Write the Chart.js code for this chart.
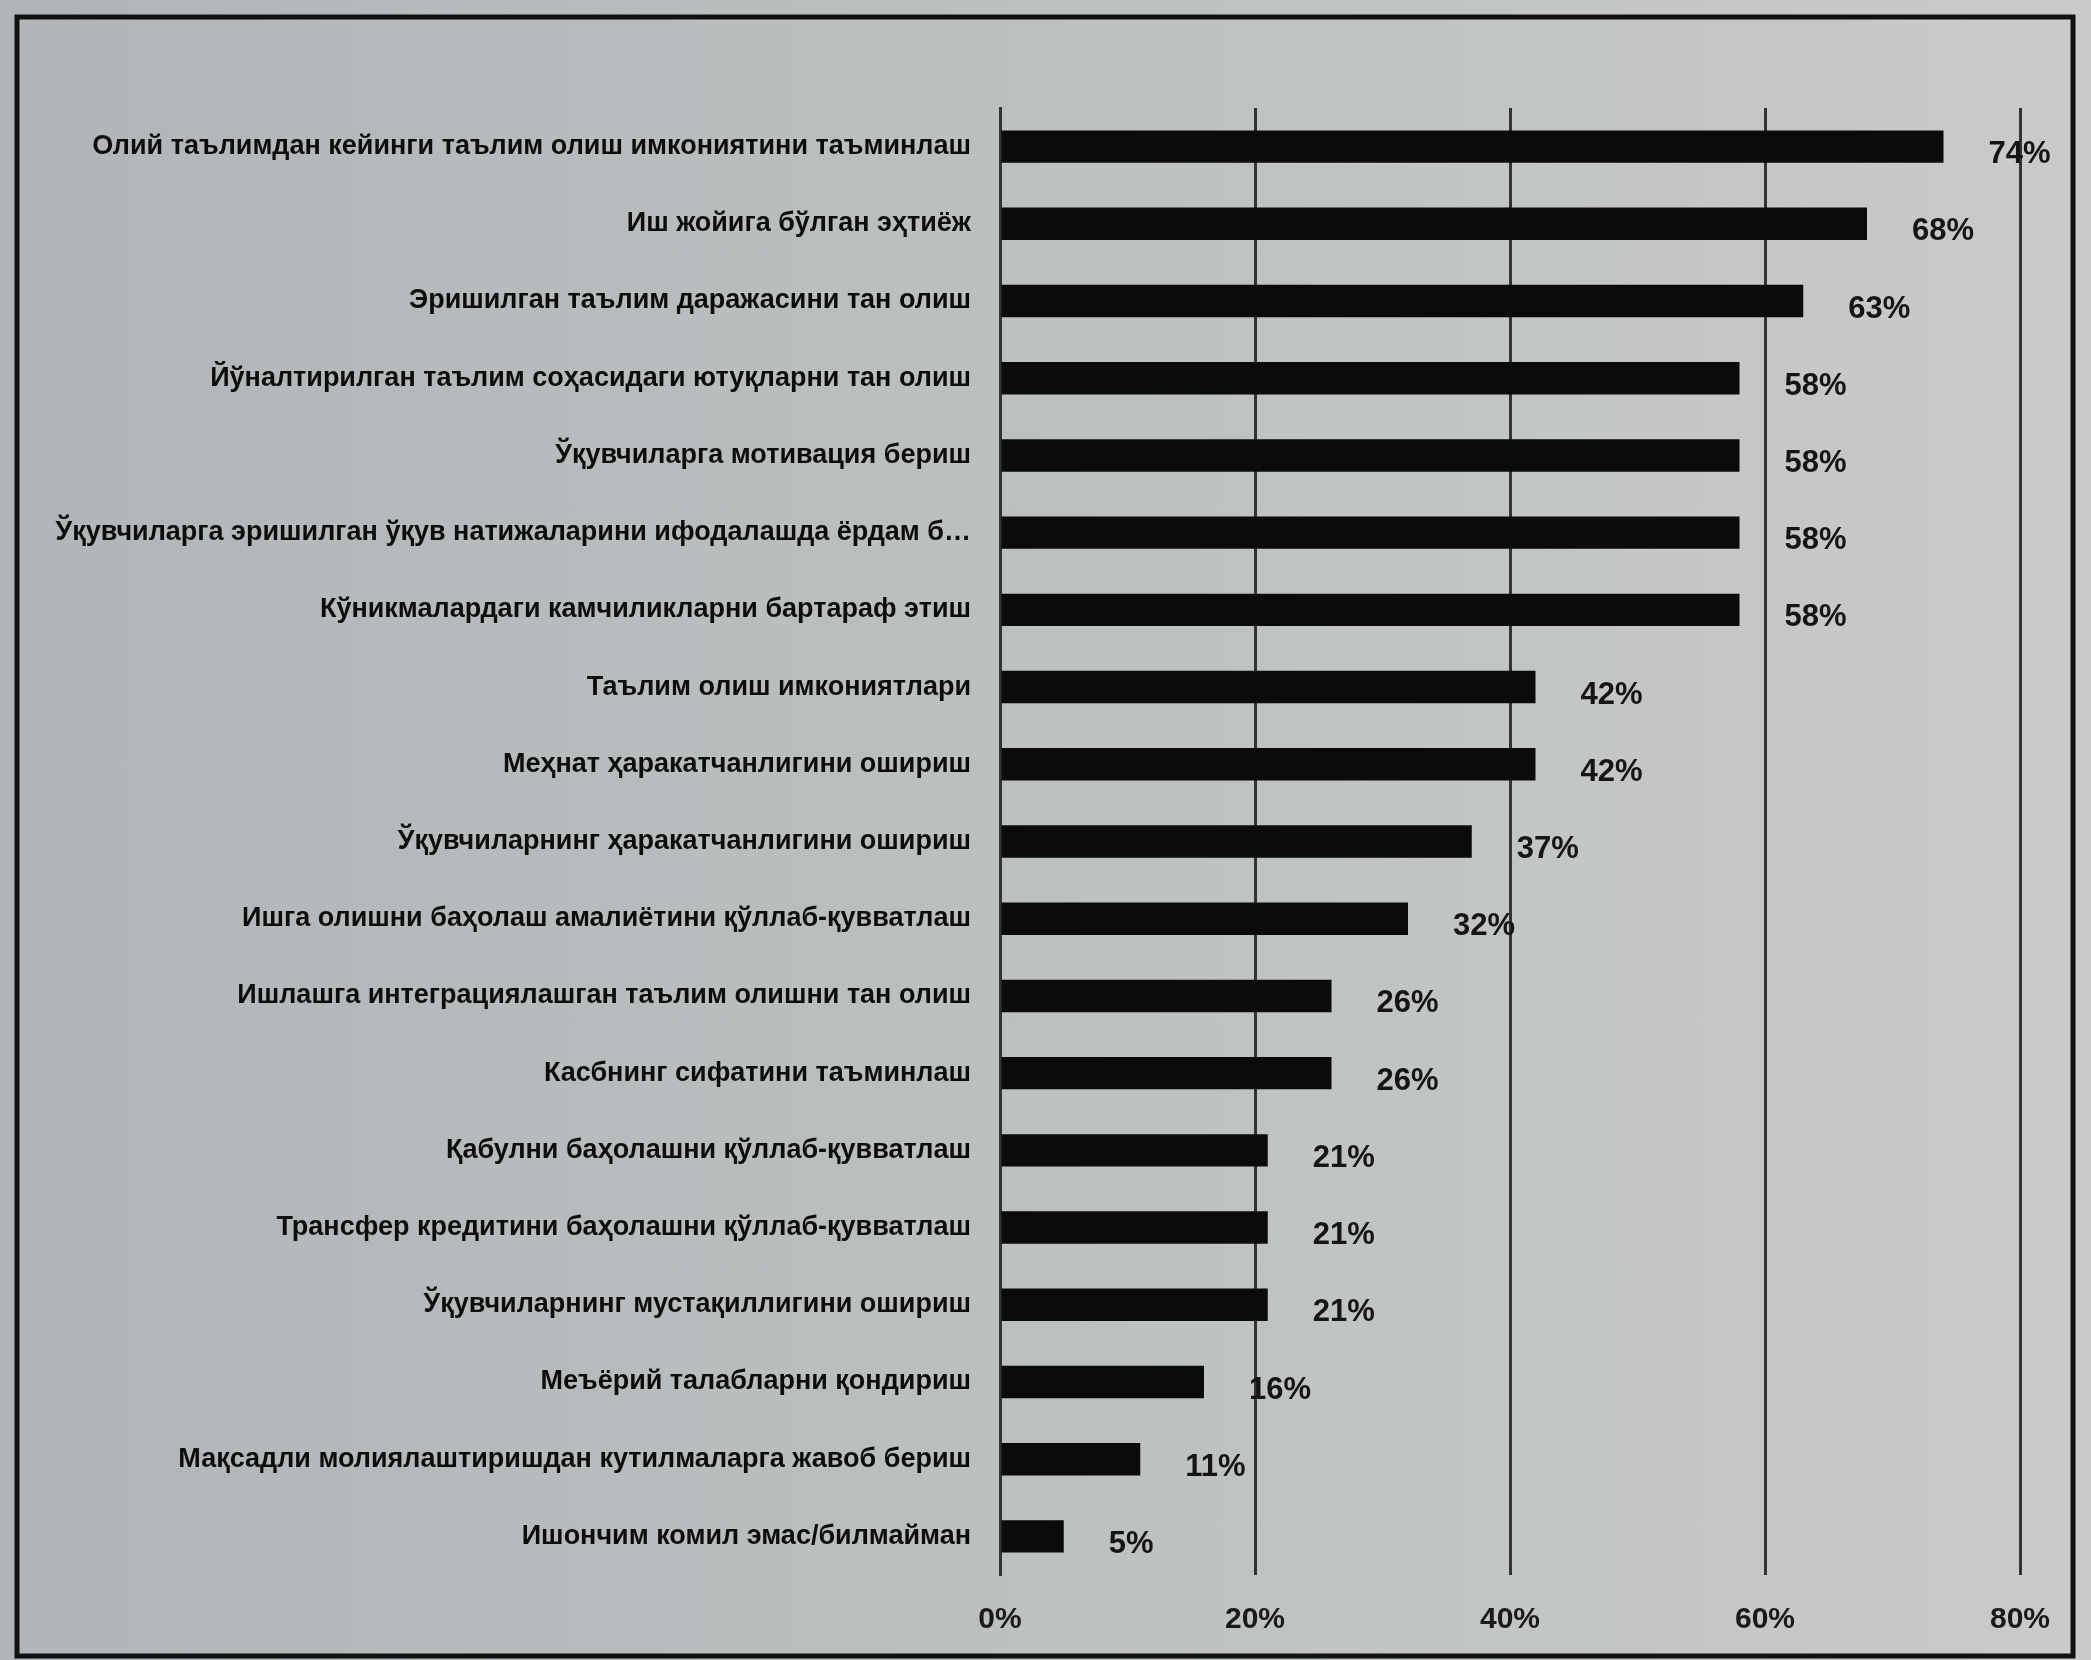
<!DOCTYPE html>
<html>
<head>
<meta charset="utf-8">
<script src="https://cdn.jsdelivr.net/npm/chart.js@4.4.1/dist/chart.umd.min.js"></script>
<style>
    html, body { margin: 0; padding: 0; }
    body { width: 2091px; height: 1660px; overflow: hidden; background: linear-gradient(to right, #b2b5b7 0%, #bcbfc0 45%, #c9cbca 100%); }
    #wrap { position: absolute; left: 0; top: 0; width: 2091px; height: 1660px; }
</style>
</head>
<body>
<div id="wrap"><canvas id="barChart" width="2091" height="1660"></canvas></div>
<script>
const categories = [
    'Олий таълимдан кейинги таълим олиш имкониятини таъминлаш',
    'Иш жойига бўлган эҳтиёж',
    'Эришилган таълим даражасини тан олиш',
    'Йўналтирилган таълим соҳасидаги ютуқларни тан олиш',
    'Ўқувчиларга мотивация бериш',
    'Ўқувчиларга эришилган ўқув натижаларини ифодалашда ёрдам б…',
    'Кўникмалардаги камчиликларни бартараф этиш',
    'Таълим олиш имкониятлари',
    'Меҳнат ҳаракатчанлигини ошириш',
    'Ўқувчиларнинг ҳаракатчанлигини ошириш',
    'Ишга олишни баҳолаш амалиётини қўллаб-қувватлаш',
    'Ишлашга интеграциялашган таълим олишни тан олиш',
    'Касбнинг сифатини таъминлаш',
    'Қабулни баҳолашни қўллаб-қувватлаш',
    'Трансфер кредитини баҳолашни қўллаб-қувватлаш',
    'Ўқувчиларнинг мустақиллигини ошириш',
    'Меъёрий талабларни қондириш',
    'Мақсадли молиялаштиришдан кутилмаларга жавоб бериш',
    'Ишончим комил эмас/билмайман'
];
const shares = [74, 68, 63, 58, 58, 58, 58, 42, 42, 37, 32, 26, 26, 21, 21, 21, 16, 11, 5];
const xTicks = [0, 20, 40, 60, 80];

const $ = id => document.getElementById(id);

// frame drawn round the whole picture, like the printed page
const framePlugin = {
    id: 'frame',
    beforeDraw(chart) {
        const c = chart.ctx;
        c.save();
        c.strokeStyle = '#111';
        c.lineWidth = 5;
        c.strokeRect(17, 17, 2056, 1639);
        c.restore();
    }
};

// value labels just past the end of each bar
const valueLabels = {
    id: 'valueLabels',
    afterDatasetsDraw(chart) {
        const c = chart.ctx;
        const meta = chart.getDatasetMeta(0);
        c.save();
        c.font = 'bold 31px "Liberation Sans", Arial, sans-serif';
        c.fillStyle = '#151515';
        c.textAlign = 'left';
        c.textBaseline = 'middle';
        meta.data.forEach((bar, i) => {
            c.fillText(shares[i] + '%', bar.x + 45, bar.y + 8);
        });
        c.restore();
    }
};

new Chart($('barChart').getContext('2d'), {
    type: 'bar',
    data: {
        labels: categories,
        datasets: [{
            data: shares,
            backgroundColor: '#0b0b0d',
            borderWidth: 0,
            barPercentage: 0.42,
            categoryPercentage: 1
        }]
    },
    options: {
        indexAxis: 'y',
        responsive: false,
        animation: false,
        layout: { padding: { top: 108, right: 71, left: 0, bottom: 0 } },
        plugins: { legend: { display: false }, tooltip: { enabled: false } },
        scales: {
            x: {
                min: 0, max: 80,
                afterBuildTicks: axis => { axis.ticks = xTicks.map(v => ({ value: v })); },
                afterFit: axis => { axis.height = 85; },
                grid: { color: '#333', lineWidth: 3, drawTicks: false },
                border: { display: false },
                ticks: {
                    padding: 27,
                    color: '#1a1a1a',
                    font: { family: '"Liberation Sans", Arial, sans-serif', size: 30, weight: 'bold' },
                    callback: v => v + '%'
                }
            },
            y: {
                afterFit: axis => { axis.width = 1000; },
                grid: { display: false, drawTicks: false },
                border: { display: true, color: '#333', width: 3 },
                ticks: {
                    padding: 29,
                    color: '#0d0d0d',
                    autoSkip: false,
                    font: { family: '"Liberation Sans", Arial, sans-serif', size: 27, weight: 'bold' }
                }
            }
        }
    },
    plugins: [framePlugin, valueLabels]
});
</script>
</body>
</html>
